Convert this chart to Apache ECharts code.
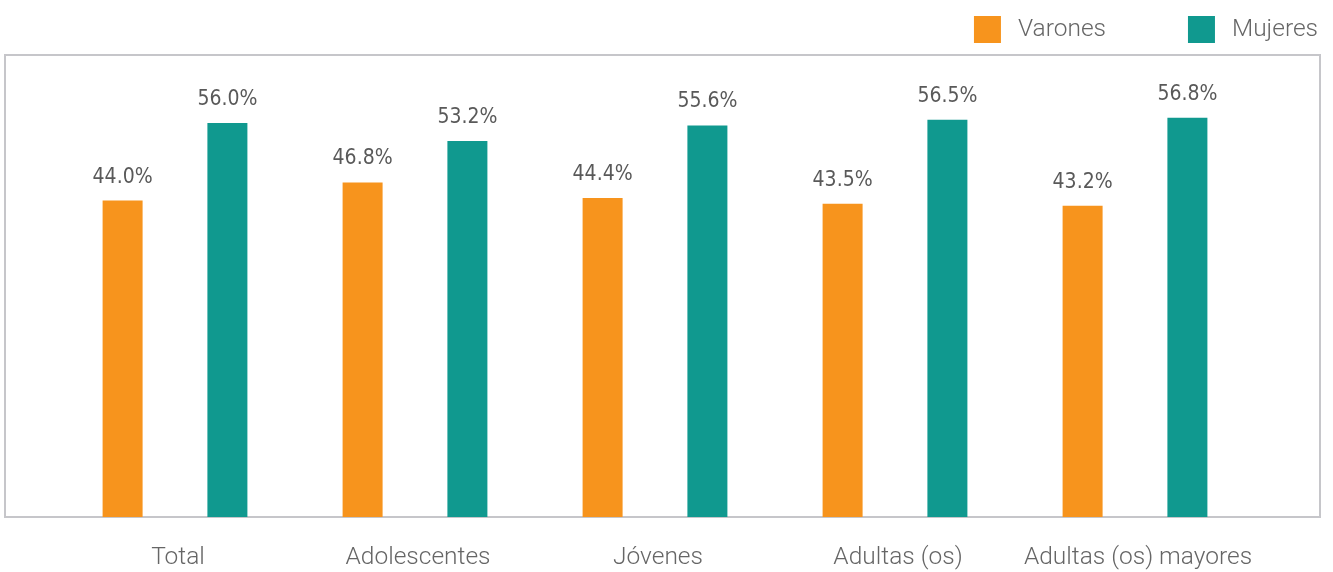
<!DOCTYPE html>
<html lang="es">
<head>
    <meta charset="UTF-8">
    <title>Varones y Mujeres</title>
    <script src="https://cdn.jsdelivr.net/npm/echarts@6/dist/echarts.min.js"></script>
</head>
<body style="margin:0;">

<div id="bar_wrap" style="width: 1333px; height: 572px;"></div>

<script>
    var categories = ["Total", "Adolescentes", "Jóvenes", "Adultas (os)", "Adultas (os) mayores"];
    var varones = [44.0, 46.8, 44.4, 43.5, 43.2];
    var mujeres = [56.0, 53.2, 55.6, 56.5, 56.8];

    var bar_obj = document.getElementById("bar_wrap");
    var myBar = echarts.init(bar_obj);

    var labelStyle = {
        show: true,
        position: 'top',
        distance: 13,
        fontFamily: '"Liberation Sans Narrow", "DejaVu Sans Condensed", sans-serif',
        fontSize: 21,
        color: '#595959',
        formatter: function (p) {
            return p.value.toFixed(1) + '%';
        }
    };

    var option = {
        animation: false,
        textStyle: {
            fontFamily: 'Roboto, sans-serif'
        },
        // outer frame of the plot
        graphic: [{
            type: 'rect',
            shape: {x: 5, y: 55, width: 1315, height: 462},
            style: {fill: 'none', stroke: '#c6c6ca', lineWidth: 2},
            silent: true
        }],
        legend: {
            right: 10,
            top: 11,
            itemWidth: 27,
            itemHeight: 27,
            itemGap: 82,
            icon: 'rect',
            textStyle: {
                fontSize: 24.5,
                fontWeight: 300,
                color: '#666666',
                padding: [0, 0, 0, 12]
            },
            data: ['Varones', 'Mujeres']
        },
        grid: {
            left: 55,
            right: 78,
            top: 55,
            bottom: 55,
            containLabel: false
        },
        xAxis: {
            type: 'category',
            data: categories,
            axisLine: {show: false},
            axisTick: {show: false},
            axisLabel: {
                interval: 0,
                margin: 28,
                padding: [0, 0, 0, 6],
                fontSize: 24.5,
                fontWeight: 300,
                color: '#666666'
            }
        },
        yAxis: {
            type: 'value',
            min: -4.9,
            max: 66.5,
            startValue: -4.9,
            show: false,
            splitLine: {show: false}
        },
        series: [
            {
                name: 'Varones',
                type: 'bar',
                barWidth: 40,
                barGap: '162%',
                itemStyle: {color: '#F7941D'},
                label: labelStyle,
                data: varones
            },
            {
                name: 'Mujeres',
                type: 'bar',
                barWidth: 40,
                barGap: '162%',
                itemStyle: {color: '#10998F'},
                label: labelStyle,
                data: mujeres
            }
        ]
    };

    myBar.setOption(option);
</script>
</body>
</html>
